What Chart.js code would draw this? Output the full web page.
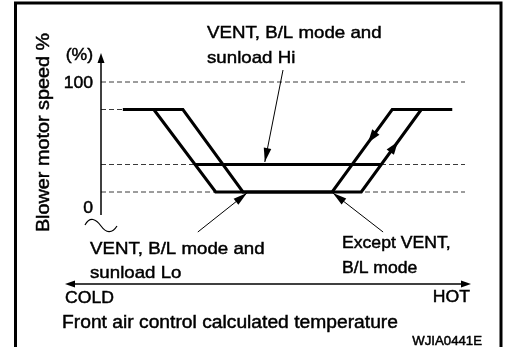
<!DOCTYPE html>
<html>
<head>
<meta charset="utf-8">
<script src="https://cdn.jsdelivr.net/npm/chart.js@4/dist/chart.umd.min.js"></script>
<style>
  html, body { margin: 0; padding: 0; background: #fff; }
  canvas { display: block; }
</style>
</head>
<body>
<canvas id="blowerChart" width="505" height="347"></canvas>
<script>
// x: front air control calculated temperature (0 = COLD ... 100 = HOT)
// y: blower motor speed in %
const yTicks = [0, 100];
const yTickLabels = ['0', '100'];
const yUnitLabel = '(%)';

// solid speed curves
const curveInner = [[14.5, 78], [31.5, 12], [63.5, 12], [80, 78], [96.5, 78]];
const curveOuter = [[6, 78], [22.5, 78], [39, 12], [71.5, 12], [88, 78]];
const sunloadHi = [[25.8, 34], [77, 34]];

// dashed guide levels
const guide100 = [[0, 100], [100, 100]];
const guideMax = [[0, 78], [6, 78]];
const guideHi = [[0, 34], [100, 34]];
const guideLo = [[0, 12], [100, 12]];

// callout arrows, [from, tip]
const calloutHi = [[50, 109.6], [45, 36]];
const calloutLo = [[26.6, -20], [40.1, 11.2]];
const calloutExcept = [[77.5, -20], [63.7, 11.2]];

const FONT = '"Liberation Sans", Arial, Helvetica, sans-serif';
const STRETCH = 1.1;

function toXY(pts) {
    return pts.map(p => ({ x: p[0], y: p[1] }));
}

function solidLine(pts) {
    return {
        data: toXY(pts),
        showLine: true,
        borderColor: '#000',
        borderWidth: 3,
        borderJoinStyle: 'miter',
        borderCapStyle: 'butt',
        pointRadius: 0,
        clip: false
    };
}

function dashedLine(pts) {
    let ds = solidLine(pts);
    ds.borderColor = '#3a3a3a';
    ds.borderWidth = 1;
    ds.borderDash = [5, 3];
    return ds;
}

function drawText(ctx, str, x, y, size, align) {
    ctx.save();
    ctx.font = `${size}px ${FONT}`;
    ctx.fillStyle = '#000';
    ctx.strokeStyle = '#000';
    ctx.lineWidth = 0.45;
    ctx.textAlign = align || 'left';
    ctx.textBaseline = 'alphabetic';
    ctx.translate(x, y);
    ctx.scale(STRETCH, 1);
    ctx.fillText(str, 0, 0);
    ctx.strokeText(str, 0, 0);
    ctx.restore();
}

function arrowHead(ctx, x1, y1, x2, y2, len, half) {
    let a = Math.atan2(y2 - y1, x2 - x1);
    let c = Math.cos(a), s = Math.sin(a);
    ctx.beginPath();
    ctx.moveTo(x2, y2);
    ctx.lineTo(x2 - len * c + half * s, y2 - len * s - half * c);
    ctx.lineTo(x2 - len * c - half * s, y2 - len * s + half * c);
    ctx.closePath();
    ctx.fill();
}

const decor = {
    id: 'decor',
    beforeDraw(chart) {
        let ctx = chart.ctx;
        ctx.save();
        ctx.fillStyle = '#fff';
        ctx.fillRect(0, 0, chart.width, chart.height);
        ctx.restore();
    },
    afterDatasetsDraw(chart) {
        let ctx = chart.ctx;
        let xs = chart.scales.x, ys = chart.scales.y;
        let px = v => xs.getPixelForValue(v);
        let py = v => ys.getPixelForValue(v);
        ctx.save();
        ctx.strokeStyle = '#000';
        ctx.fillStyle = '#000';

        // outer frame
        ctx.lineWidth = 3;
        ctx.beginPath();
        ctx.moveTo(15.5, 347);
        ctx.lineTo(15.5, 3);
        ctx.lineTo(501, 3);
        ctx.lineTo(501, 347);
        ctx.stroke();

        // y axis with arrow
        let ax = px(0);
        ctx.lineWidth = 1.5;
        ctx.beginPath();
        ctx.moveTo(ax, ys.bottom);
        ctx.lineTo(ax, ys.top + 6);
        ctx.stroke();
        arrowHead(ctx, ax, ys.top + 20, ax, ys.top, 10, 3.5);

        // axis break squiggle
        ctx.lineWidth = 1.2;
        ctx.beginPath();
        ctx.moveTo(ax - 16, 225);
        ctx.bezierCurveTo(ax - 11, 216, ax - 5, 219, ax, 226);
        ctx.bezierCurveTo(ax + 5, 233, ax + 11, 234, ax + 16, 226);
        ctx.stroke();

        // temperature axis, double arrow
        ctx.lineWidth = 1.5;
        ctx.beginPath();
        ctx.moveTo(70, 284);
        ctx.lineTo(465, 284);
        ctx.stroke();
        arrowHead(ctx, 80, 284, 65, 284, 10, 3.5);
        arrowHead(ctx, 455, 284, 471, 284, 10, 3.5);

        // direction arrows on the hot side ramps
        let ramp = (a, b, t) => [px(a[0] + (b[0] - a[0]) * t), py(a[1] + (b[1] - a[1]) * t)];
        let d1 = ramp(curveInner[2], curveInner[3], 0.78);
        let d2 = ramp(curveInner[2], curveInner[3], 0.6);
        arrowHead(ctx, d1[0], d1[1], d2[0], d2[1], 13, 4.5);
        let u1 = ramp(curveOuter[3], curveOuter[4], 0.44);
        let u2 = ramp(curveOuter[3], curveOuter[4], 0.61);
        arrowHead(ctx, u1[0], u1[1], u2[0], u2[1], 13, 4.5);

        // callouts
        ctx.lineWidth = 1;
        [calloutHi, calloutLo, calloutExcept].forEach(c => {
            let x1 = px(c[0][0]), y1 = py(c[0][1]);
            let x2 = px(c[1][0]), y2 = py(c[1][1]);
            ctx.beginPath();
            ctx.moveTo(x1, y1);
            ctx.lineTo(x2, y2);
            ctx.stroke();
            arrowHead(ctx, x1, y1, x2, y2, 14, 3.8);
        });

        // tick labels
        yTicks.forEach((v, i) => {
            drawText(ctx, yTickLabels[i], ax - 8, py(v) + 5.5, 16, 'right');
        });
        drawText(ctx, yUnitLabel, ax - 8, 60, 16, 'right');

        // axis titles
        ctx.save();
        ctx.translate(49, 132.5);
        ctx.rotate(-Math.PI / 2);
        drawText(ctx, 'Blower motor speed %', 0, 0, 18, 'center');
        ctx.restore();
        drawText(ctx, 'COLD', 65, 303, 16, 'left');
        drawText(ctx, 'HOT', 470, 302, 16, 'right');
        drawText(ctx, 'Front air control calculated temperature', 62, 327.5, 17.5, 'left');
        drawText(ctx, 'WJIA0441E', 482, 345, 12, 'right');

        // callout labels
        drawText(ctx, 'VENT, B/L mode and', 207, 37.5, 17, 'left');
        drawText(ctx, 'sunload Hi', 207, 62.5, 17, 'left');
        drawText(ctx, 'VENT, B/L mode and', 90, 254, 17, 'left');
        drawText(ctx, 'sunload Lo', 90, 278, 17, 'left');
        drawText(ctx, 'Except VENT,', 342, 248, 16, 'left');
        drawText(ctx, 'B/L mode', 342, 273, 16, 'left');

        ctx.restore();
    }
};

new Chart(document.getElementById('blowerChart'), {
    type: 'scatter',
    data: {
        datasets: [
            solidLine(curveInner),
            solidLine(curveOuter),
            solidLine(sunloadHi),
            dashedLine(guide100),
            dashedLine(guideMax),
            dashedLine(guideHi),
            dashedLine(guideLo)
        ]
    },
    options: {
        responsive: false,
        devicePixelRatio: 1,
        animation: false,
        events: [],
        layout: { padding: { left: 101, right: 40, top: 53, bottom: 132 } },
        scales: {
            x: { type: 'linear', min: 0, max: 100, display: false },
            y: { type: 'linear', min: -6.4, max: 123.2, display: false }
        },
        plugins: {
            legend: { display: false },
            tooltip: { enabled: false }
        }
    },
    plugins: [decor]
});
</script>
</body>
</html>
